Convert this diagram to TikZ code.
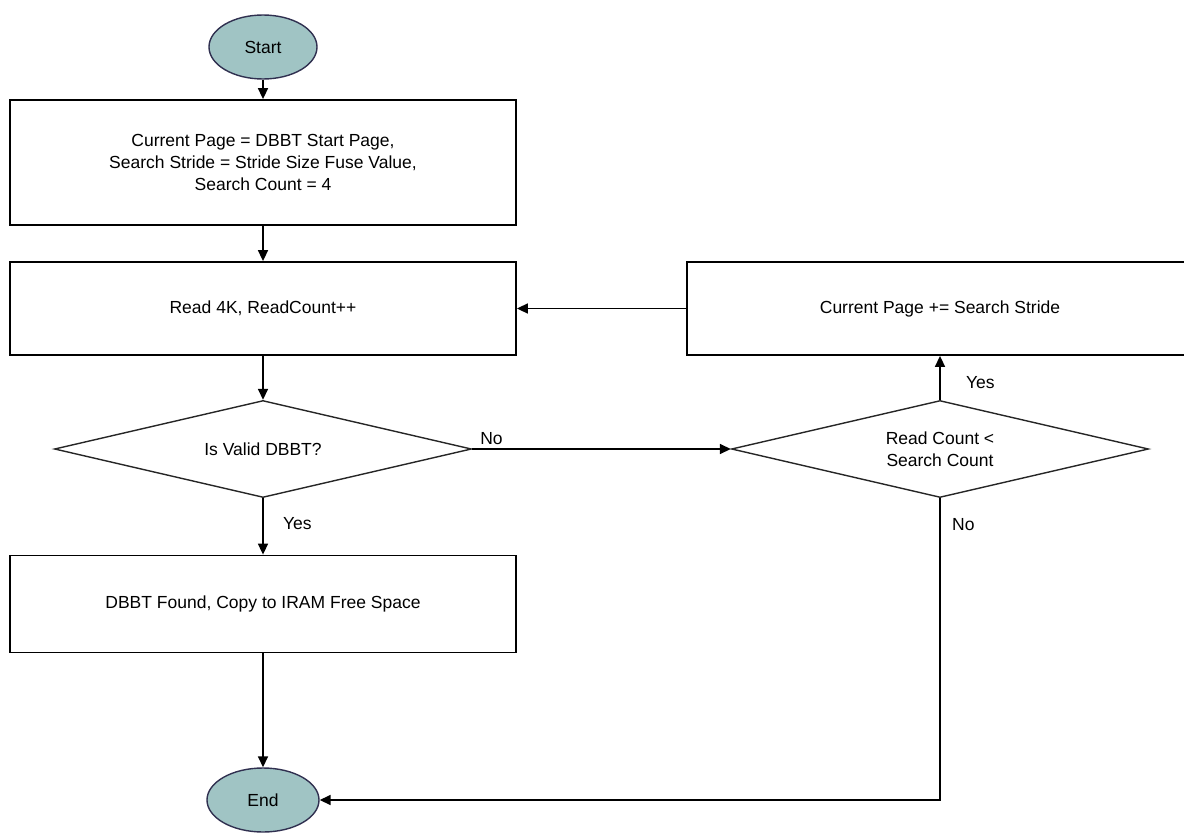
\documentclass[tikz,border=0pt]{standalone}
\usepackage{fontspec}
\setmainfont{Liberation Sans}
\usetikzlibrary{arrows.meta, positioning, shapes.geometric}
\definecolor{termfill}{RGB}{160,196,196}
\definecolor{termline}{RGB}{48,48,80}

\begin{document}
\begin{tikzpicture}[x=1pt, y=-1pt,
    every node/.style={font=\fontsize{17.5}{22}\selectfont},
    terminal/.style={ellipse, draw=termline, fill=termfill, line width=1.4pt,
                     minimum width=108pt, minimum height=64pt, inner sep=0pt},
    process/.style={rectangle, draw, line width=1.8pt, align=center,
                    minimum width=506pt, inner sep=0pt},
    decision/.style={diamond, draw=black!85, line width=1.4pt, align=center,
                     aspect=4.3, minimum width=417pt, minimum height=97pt, inner sep=0pt},
    flow/.style={line width=1.6pt, -{Triangle[length=11pt,width=10pt]}}]
  \useasboundingbox (0,0) rectangle (1184,835);
  % main column
  \node[terminal] (start) at (263,47) {Start};
  \node[process, minimum height=125pt] (init) at (263,162.5)
    {Current Page = DBBT Start Page,\\ Search Stride = Stride Size Fuse Value,\\ Search Count = 4};
  \node[process, minimum height=93pt] (read) at (263,308.5) {Read 4K, ReadCount++};
  \node[decision] (valid) at (263,449) {Is Valid DBBT?};
  \node[process, minimum height=97pt] (found) at (263,604) {DBBT Found, Copy to IRAM Free Space};
  \node[terminal, minimum width=112pt] (finish) at (263,800) {End};
  % retry branch
  \node[decision] (check) at (940,449) {Read Count <\\ Search Count};
  \node[process, minimum height=93pt] (advance) at (940,308.5) {Current Page += Search Stride};

  \draw[flow] (start) -- (init);
  \draw[flow] (init) -- (read);
  \draw[flow] (read) -- (valid);
  \draw[flow] (valid) -- node[right=16pt, pos=0.45] {Yes} (found);
  \draw[flow] (found) -- (finish);
  \draw[flow] (valid) -- node[pos=0, above right=0pt and 4pt] {No} (check);
  \draw[flow] (check) -- node[right=22pt, pos=0.4] {Yes} (advance);
  \draw[flow] (advance) -- (read);
  \draw[flow] (check.south) |- node[pos=0, below right=16pt and 8pt] {No} (finish.east);
\end{tikzpicture}
\end{document}
